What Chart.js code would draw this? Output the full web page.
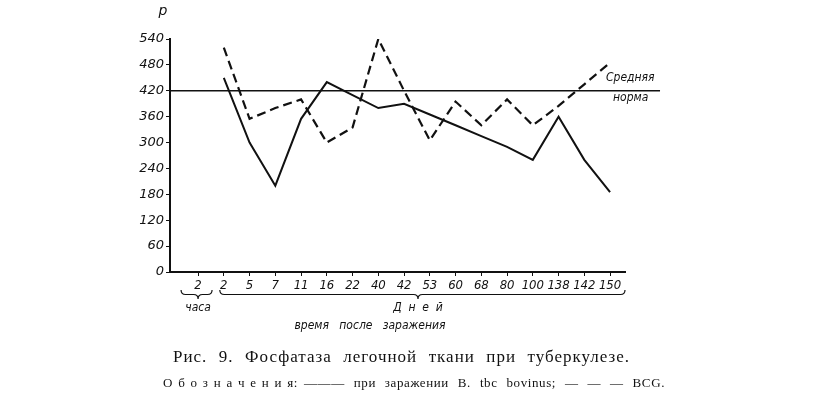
<!DOCTYPE html>
<html>
<head>
<meta charset="utf-8">
<script src="https://cdn.jsdelivr.net/npm/chart.js@4"></script>
<style>
  body { margin: 0; background: #fff; }
  #wrap { width: 813px; height: 398px; position: relative; }
</style>
</head>
<body>
<div id="wrap"><canvas id="phosChart"></canvas></div>
<script>
// Данные
const xLabels = ['2', '2', '5', '7', '11', '16', '22', '40', '42', '53', '60', '68', '80', '100', '138', '142', '150'];
const solidValues = [null, 450, 300, 200, 355, 440, 410, 380, 390, 365, 340, 315, 290, 260, 360, 260, 185];   // B. tbc bovinus
const dashedValues = [null, 520, 355, 380, 400, 300, 335, 540, 420, 305, 395, 340, 400, 340, 385, 435, 485];  // BCG
const normValue = 420;
const yTickValues = [0, 60, 120, 180, 240, 300, 360, 420, 480, 540];
const yTickLabels = ['0', '60', '120', '180', '240', '300', '360', '420', '480', '540'];

const xMin = -1.09, xMax = 16.58, normEnd = 17.94;

function toPoints(values) {
    return values
        .map((v, i) => ({ x: i, y: v }))
        .filter(p => p.y !== null);
}

// фигурная скобка под осью
function brace(ctx, x1, x2, y, h, tip) {
    const r = h / 2;
    ctx.beginPath();
    ctx.moveTo(x1, y);
    ctx.quadraticCurveTo(x1, y + r, x1 + r, y + r);
    ctx.lineTo(tip - r, y + r);
    ctx.quadraticCurveTo(tip, y + r, tip, y + h);
    ctx.quadraticCurveTo(tip, y + r, tip + r, y + r);
    ctx.lineTo(x2 - r, y + r);
    ctx.quadraticCurveTo(x2, y + r, x2, y);
    ctx.stroke();
}

// растянуть строку от x1 до x2: немного разрядки, остальное в пробелы
function fitText(ctx, text, x1, x2, y, letter) {
    ctx.textAlign = 'left';
    ctx.letterSpacing = letter + 'px';
    ctx.wordSpacing = '0px';
    const w = ctx.measureText(text).width;
    const spaces = (text.match(/ /g) || []).length;
    const extra = (x2 - x1 - w) / Math.max(1, spaces);
    if (extra > 0) ctx.wordSpacing = extra.toFixed(2) + 'px';
    ctx.fillText(text, x1, y);
    ctx.letterSpacing = '0px';
    ctx.wordSpacing = '0px';
}

const annotations = {
    id: 'annotations',
    afterDraw(chart) {
        const ctx = chart.ctx;
        const xs = chart.scales.x;
        const ys = chart.scales.y;
        ctx.save();
        ctx.fillStyle = '#111';
        ctx.strokeStyle = '#111';
        ctx.lineWidth = 1.2;

        // подпись оси Y
        ctx.font = 'italic 14px "DejaVu Sans"';
        ctx.textAlign = 'center';
        ctx.textBaseline = 'middle';
        ctx.fillText('р', xs.left - 7, 11);

        // средняя норма
        const ny = ys.getPixelForValue(normValue);
        ctx.font = 'italic 12px "DejaVu Sans Condensed", "DejaVu Sans"';
        ctx.textAlign = 'left';
        ctx.fillText('Средняя', 606, ny - 13);
        ctx.fillText('норма', 613, ny + 7);

        // скобки
        const p0 = xs.getPixelForValue(0);
        const p1 = xs.getPixelForValue(1);
        brace(ctx, p0 - 17, p0 + 14, 290, 9, p0);
        brace(ctx, p1 - 4, xs.right, 290, 9, 418);

        ctx.font = 'italic 12px "DejaVu Sans Condensed", "DejaVu Sans"';
        ctx.textAlign = 'center';
        ctx.fillText('часа', p0, 308);
        ctx.fillText('Д  н  е  й', 418, 308);
        ctx.fillText('время   после   заражения', 370, 326);

        // подпись к рисунку
        ctx.font = '17px "Liberation Serif"';
        fitText(ctx, 'Рис. 9. Фосфатаза легочной ткани при туберкулезе.', 173, 630, 358, 1.0);
        ctx.font = '13px "Liberation Serif"';
        fitText(ctx, 'О б о з н а ч е н и я:', 163, 298, 384, 0.6);
        fitText(ctx, '——— при заражении B. tbc bovinus; — — — BCG.', 304, 665, 384, 0.6);
        ctx.restore();
    }
};

const ctx = document.getElementById('phosChart').getContext('2d');
new Chart(ctx, {
    type: 'line',
    data: {
        datasets: [
            {
                label: 'при заражении B. tbc bovinus',
                data: toPoints(solidValues),
                borderColor: '#111',
                borderWidth: 2,
                pointRadius: 0,
                tension: 0
            },
            {
                label: 'BCG',
                data: toPoints(dashedValues),
                borderColor: '#111',
                borderWidth: 2.2,
                borderDash: [9, 5],
                pointRadius: 0,
                tension: 0
            },
            {
                label: 'Средняя норма',
                data: [{ x: xMin, y: normValue }, { x: normEnd, y: normValue }],
                borderColor: '#111',
                borderWidth: 1.6,
                pointRadius: 0,
                clip: false
            }
        ]
    },
    options: {
        responsive: true,
        maintainAspectRatio: false,
        animation: false,
        layout: {
            padding: { top: 39, right: 188, left: 0, bottom: 0 }
        },
        plugins: {
            legend: { display: false },
            tooltip: { enabled: false }
        },
        scales: {
            x: {
                type: 'linear',
                min: xMin,
                max: xMax,
                afterFit: (scale) => { scale.height = 126; },
                afterBuildTicks: (scale) => {
                    scale.ticks = xLabels.map((_, i) => ({ value: i }));
                },
                grid: { display: true, drawOnChartArea: false, drawTicks: true, tickLength: 4, color: '#111' },
                border: { display: true, color: '#111', width: 2 },
                ticks: {
                    color: '#111',
                    padding: 2,
                    maxRotation: 0,
                    autoSkip: false,
                    font: { family: '"DejaVu Sans Condensed", "DejaVu Sans"', style: 'italic', size: 13 },
                    callback: (value) => xLabels[value]
                }
            },
            y: {
                min: 0,
                max: 540,
                afterFit: (scale) => { scale.width = 170; },
                afterBuildTicks: (scale) => {
                    scale.ticks = yTickValues.map(v => ({ value: v }));
                },
                grid: { display: true, drawOnChartArea: false, drawTicks: true, tickLength: 4, color: '#111' },
                border: { display: true, color: '#111', width: 2 },
                ticks: {
                    color: '#111',
                    padding: 2,
                    font: { family: '"DejaVu Sans"', style: 'italic', size: 13 },
                    callback: (value, i) => yTickLabels[i]
                }
            }
        }
    },
    plugins: [annotations]
});
</script>
</body>
</html>
